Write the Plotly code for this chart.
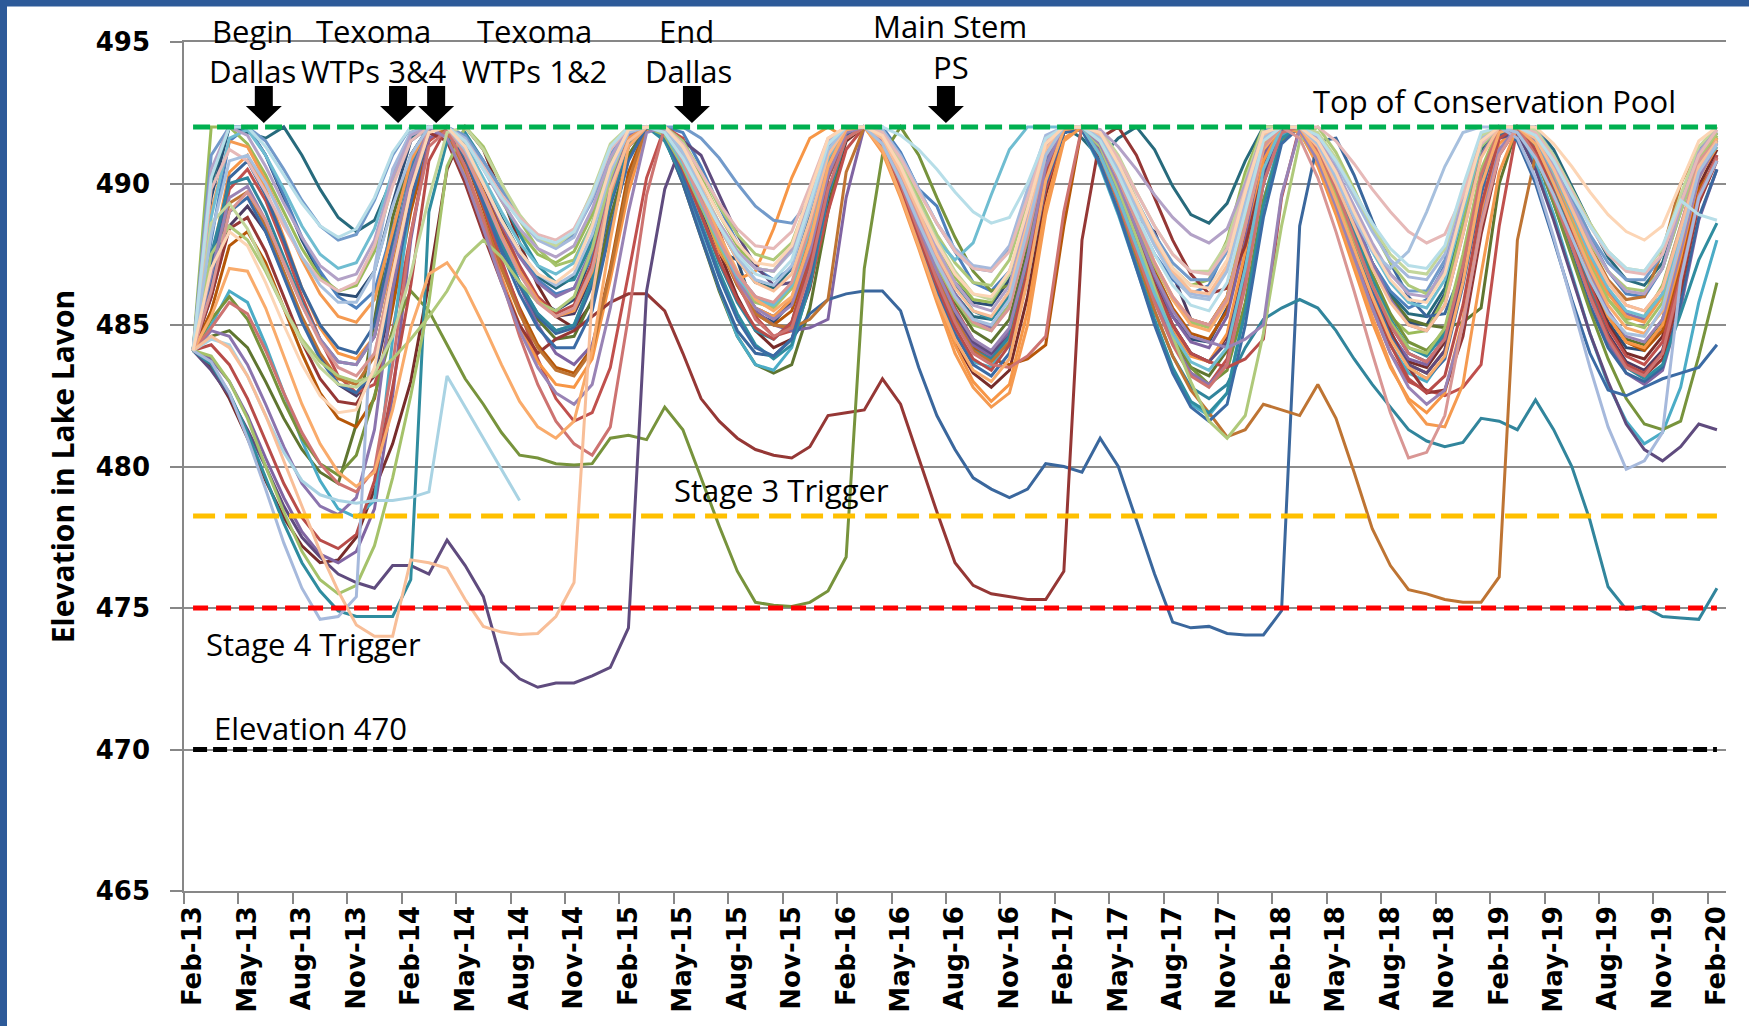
import plotly.graph_objects as go

# ---------------- data ----------------
tick_labels = ["Feb-13", "May-13", "Aug-13", "Nov-13", "Feb-14", "May-14", "Aug-14", "Nov-14",
               "Feb-15", "May-15", "Aug-15", "Nov-15", "Feb-16", "May-16", "Aug-16", "Nov-16",
               "Feb-17", "May-17", "Aug-17", "Nov-17", "Feb-18", "May-18", "Aug-18", "Nov-18",
               "Feb-19", "May-19", "Aug-19", "Nov-19", "Feb-20"]
tick_months = list(range(0, 85, 3))

top_pool = 492.0
stage3 = 478.25
stage4 = 475.0
elev470 = 470.0

arrow_months = [3.9, 11.3, 13.4, 27.5, 41.5]

s01 = [484.1, 488.0, 491.5, 492.0, 491.0, 489.6, 488.1, 486.9, 486.0, 485.6, 486.2, 488.4,
       490.6, 492.0, 492.0, 491.3, 490.0, 488.7, 487.5, 486.6, 486.1, 486.3, 487.4, 489.6,
       491.4, 492.0, 492.0, 491.8, 490.6, 489.2, 487.9, 487.0, 486.6, 487.0, 488.3, 490.2,
       491.8, 492.0, 492.0, 491.1, 489.8, 489.2, 487.6, 486.5, 486.2, 486.9, 488.6, 490.8,
       492.0, 492.0, 491.5, 490.2, 488.8, 487.5, 486.6, 486.1, 486.4, 487.8, 490.1, 491.9,
       492.0, 492.0, 491.2, 490.6, 488.9, 487.2, 486.2, 485.6, 485.9, 487.1, 489.4, 491.6,
       492.0, 492.0, 492.0, 491.0, 489.5, 488.1, 486.9, 486.1, 486.0, 487.0, 489.0, 490.9,
       491.8]
s02 = [484.1, 486.5, 489.8, 490.5, 489.4, 487.8, 486.0, 484.5, 483.2, 482.6, 482.9, 484.8,
       488.2, 491.5, 492.0, 491.0, 489.2, 487.3, 485.5, 483.8, 482.4, 481.6, 481.9, 483.5,
       486.8, 490.2, 492.0, 491.6, 490.0, 488.3, 486.6, 485.3, 484.6, 484.8, 486.4, 489.0,
       491.2, 492.0, 491.9, 490.5, 488.8, 487.1, 485.6, 484.5, 484.0, 484.7, 486.9, 489.8,
       491.8, 492.0, 491.0, 489.4, 487.6, 485.9, 484.4, 483.3, 482.9, 483.8, 486.8, 490.0,
       491.9, 492.0, 490.8, 489.2, 487.4, 485.6, 484.0, 483.0, 482.7, 482.5, 482.8, 483.6,
       488.5, 492.0, 491.5, 490.0, 488.2, 486.4, 484.9, 483.9, 483.6, 484.4, 486.8, 489.5,
       491.0]
s03 = [484.1, 492.0, 492.0, 491.4, 490.3, 489.0, 487.7, 486.7, 486.2, 486.4, 487.6, 490.0,
       491.8, 492.0, 492.0, 491.6, 490.6, 489.4, 488.3, 487.5, 487.2, 487.6, 488.9, 490.8,
       492.0, 492.0, 492.0, 491.4, 490.2, 488.9, 487.8, 487.0, 486.9, 487.7, 489.5, 491.5,
       492.0, 492.0, 491.8, 490.7, 489.3, 487.9, 486.7, 485.9, 485.8, 486.8, 489.0, 491.4,
       492.0, 492.0, 491.9, 490.8, 489.4, 488.1, 487.0, 486.4, 486.6, 488.0, 490.4, 492.0,
       492.0, 491.8, 490.7, 489.3, 487.8, 486.4, 485.3, 484.7, 484.8, 486.0, 488.6, 491.0,
       492.0, 492.0, 491.3, 490.0, 488.5, 487.1, 485.9, 485.2, 485.3, 486.4, 488.5, 490.6,
       491.7]
s04 = [484.1, 483.8, 483.0, 481.8, 480.3, 478.9, 477.7, 476.9, 476.6, 477.0, 478.5, 482.5,
       488.0, 491.6, 492.0, 491.2, 489.7, 488.0, 486.4, 485.0, 484.0, 483.6, 484.3, 486.8,
       489.9, 492.0, 492.0, 491.2, 489.7, 488.1, 486.6, 485.5, 485.0, 484.8, 484.9, 485.2,
       489.5, 492.0, 491.6, 490.2, 488.6, 486.9, 485.4, 484.3, 483.9, 484.8, 487.3, 490.4,
       492.0, 492.0, 491.4, 490.0, 488.3, 486.7, 485.3, 484.4, 484.2, 485.3, 488.0, 491.0,
       492.0, 492.0, 491.0, 489.5, 487.8, 486.1, 484.7, 483.8, 483.6, 484.6, 487.2, 490.3,
       491.9, 492.0, 491.2, 489.6, 487.8, 486.0, 484.4, 483.3, 482.9, 483.4, 485.6, 488.7,
       490.5]
s05 = [484.1, 485.0, 486.2, 485.8, 484.3, 482.6, 480.9, 479.5, 478.5, 478.2, 478.8, 484.5,
       489.5, 492.0, 492.0, 491.1, 489.6, 488.0, 486.5, 485.4, 484.8, 485.0, 486.6, 489.5,
       491.6, 492.0, 491.7, 490.1, 488.2, 486.3, 484.6, 483.6, 483.4, 484.2, 486.5, 489.6,
       491.7, 492.0, 491.3, 489.8, 488.0, 486.2, 484.7, 483.7, 483.5, 484.6, 487.4, 490.6,
       492.0, 491.9, 490.6, 488.9, 487.0, 485.1, 483.4, 482.2, 481.8, 482.6, 485.6, 489.4,
       491.7, 492.0, 491.0, 489.4, 487.6, 485.8, 484.3, 483.3, 483.0, 483.9, 486.6, 489.9,
       491.8, 491.9, 490.7, 488.9, 486.8, 484.7, 482.9, 481.6, 480.8, 481.2, 482.8, 485.8,
       488.0]
s06 = [484.1, 487.2, 490.4, 491.0, 489.8, 488.1, 486.3, 484.9, 484.0, 483.8, 484.6, 487.3,
       490.0, 492.0, 491.8, 490.4, 488.6, 486.7, 485.0, 483.7, 482.9, 482.8, 483.8, 486.6,
       489.7, 491.9, 492.0, 491.0, 489.3, 487.6, 486.6, 486.9, 488.4, 490.2, 491.6, 492.0,
       491.6, 492.0, 491.5, 489.9, 488.0, 486.0, 484.3, 483.0, 482.3, 482.9, 485.5, 489.2,
       491.6, 492.0, 491.1, 489.6, 487.9, 486.2, 484.8, 483.9, 483.7, 484.7, 487.6, 490.8,
       492.0, 491.9, 490.6, 488.9, 487.0, 485.1, 483.5, 482.4, 481.9, 482.6, 485.2, 488.9,
       491.4, 492.0, 491.6, 490.2, 488.5, 486.8, 485.3, 484.4, 484.2, 485.0, 487.4, 490.2,
       491.3]
s07 = [484.1, 489.5, 492.0, 492.0, 491.0, 489.5, 488.0, 486.8, 486.1, 486.0, 486.9, 489.3,
       491.5, 492.0, 491.9, 490.8, 489.4, 488.0, 486.8, 485.9, 485.5, 485.9, 487.5, 490.1,
       491.8, 492.0, 491.8, 490.6, 489.1, 487.6, 487.3, 485.4, 485.1, 485.8, 487.9, 490.6,
       492.0, 492.0, 491.6, 490.4, 489.0, 487.6, 486.5, 485.8, 485.7, 486.6, 488.8, 491.2,
       492.0, 492.0, 491.2, 489.8, 488.2, 486.6, 485.3, 484.5, 484.4, 485.6, 488.5, 491.3,
       492.0, 492.0, 491.4, 490.1, 488.6, 487.1, 485.9, 485.1, 485.0, 486.1, 488.7, 491.1,
       492.0, 492.0, 491.4, 490.0, 488.3, 486.6, 485.1, 484.2, 484.1, 485.0, 487.5, 490.2,
       491.5]
s08 = [484.1, 483.5, 482.4, 481.0, 479.5, 478.2, 477.2, 476.6, 476.7, 477.5, 479.2, 480.8,
       483.0, 486.5, 490.5, 492.0, 491.2, 489.6, 487.9, 486.4, 485.3, 484.9, 485.8, 488.3,
       490.9, 492.0, 492.0, 491.0, 489.3, 487.6, 486.0, 484.8, 484.2, 484.5, 486.3, 489.3,
       491.5, 492.0, 491.3, 489.7, 487.9, 486.0, 484.4, 483.3, 482.8, 483.4, 486.0, 489.6,
       491.8, 492.0, 491.3, 489.9, 488.2, 486.5, 485.0, 484.0, 483.7, 484.6, 487.4, 490.6,
       492.0, 492.0, 491.1, 489.6, 487.9, 486.2, 484.7, 483.7, 483.5, 484.4, 487.0, 490.2,
       491.9, 492.0, 491.3, 489.9, 488.2, 486.5, 485.0, 484.0, 483.8, 484.6, 487.0, 489.9,
       491.2]
s09 = [484.1, 484.6, 484.8, 484.2, 483.0, 481.7, 480.6, 479.8, 479.4, 481.5, 485.2, 488.8,
       491.0, 492.0, 492.0, 491.0, 489.5, 487.9, 486.4, 485.2, 484.5, 484.6, 485.9, 488.8,
       491.0, 492.0, 491.6, 490.0, 488.1, 486.2, 484.6, 483.6, 483.3, 483.6, 485.6, 489.0,
       491.9, 492.0, 491.7, 490.4, 488.8, 487.2, 485.8, 484.8, 484.4, 485.2, 487.7, 490.8,
       492.0, 492.0, 491.2, 489.6, 487.8, 486.0, 484.5, 483.5, 483.2, 484.1, 487.0, 490.4,
       492.0, 492.0, 491.5, 490.2, 488.7, 487.2, 486.0, 485.2, 485.0, 484.9, 485.1, 485.6,
       490.0, 492.0, 491.5, 490.1, 488.4, 486.8, 485.4, 484.5, 484.3, 485.2, 487.6, 490.2,
       491.6]
s10 = [484.1, 486.0, 488.5, 489.2, 488.3, 486.8, 485.2, 483.9, 482.9, 482.5, 483.2, 486.0,
       489.4, 492.0, 492.0, 491.2, 489.8, 488.3, 486.9, 485.9, 485.3, 485.4, 486.7, 489.4,
       491.3, 492.0, 491.9, 490.8, 489.3, 487.8, 486.5, 485.6, 485.3, 485.9, 488.0, 490.7,
       492.0, 492.0, 491.4, 490.0, 488.4, 486.8, 485.4, 484.4, 484.0, 484.8, 487.4, 490.5,
       492.0, 492.0, 491.6, 490.3, 488.8, 488.3, 486.8, 485.2, 485.0, 486.0, 488.7, 491.4,
       492.0, 492.0, 491.2, 489.7, 488.0, 486.4, 485.0, 484.0, 483.7, 484.5, 487.0, 490.0,
       491.9, 492.0, 491.1, 489.6, 487.9, 486.2, 484.7, 483.7, 483.4, 484.1, 486.5, 489.5,
       491.0]
s11 = [484.1, 490.0, 492.0, 491.8, 491.6, 492.0, 491.0, 489.8, 488.8, 488.3, 488.7, 490.2,
       491.6, 492.0, 492.0, 491.4, 490.1, 488.8, 487.6, 486.7, 486.3, 486.7, 488.0, 490.3,
       491.7, 492.0, 492.0, 491.2, 489.9, 488.5, 487.3, 486.5, 486.3, 487.0, 489.0, 491.2,
       492.0, 492.0, 491.5, 490.2, 488.8, 487.3, 486.1, 485.3, 485.2, 486.2, 488.7, 491.2,
       492.0, 491.6, 490.9, 491.6, 492.0, 491.2, 489.9, 488.9, 488.6, 489.3, 490.8, 492.0,
       492.0, 492.0, 491.3, 490.0, 488.6, 487.2, 486.1, 485.4, 485.3, 486.3, 488.7, 491.2,
       492.0, 491.6, 492.0, 491.2, 489.9, 488.6, 487.4, 486.6, 486.4, 487.2, 489.2, 491.0,
       491.8]
s12 = [484.1, 485.5, 487.8, 488.3, 487.2, 485.6, 484.0, 482.6, 481.7, 481.4, 482.4, 485.6,
       489.0, 491.5, 492.0, 490.9, 489.1, 487.2, 485.6, 484.3, 483.5, 483.3, 484.2, 487.0,
       490.4, 492.0, 492.0, 491.0, 489.4, 487.8, 486.4, 485.4, 485.0, 485.5, 487.4, 490.2,
       491.7, 492.0, 491.6, 490.2, 488.5, 486.8, 485.3, 484.2, 483.8, 483.6, 483.8, 484.3,
       488.5, 492.0, 491.5, 490.1, 488.5, 486.9, 485.6, 484.7, 484.5, 485.5, 488.2, 491.1,
       492.0, 491.8, 490.9, 489.4, 487.7, 486.0, 484.6, 483.6, 483.3, 484.1, 486.8, 490.0,
       491.7, 492.0, 491.4, 490.0, 488.3, 486.7, 485.3, 484.4, 484.1, 484.8, 487.1, 489.8,
       490.8]
s13 = [484.1, 491.0, 492.0, 492.0, 491.5, 490.5, 489.4, 488.5, 488.0, 488.2, 489.4, 491.0,
       492.0, 492.0, 492.0, 491.7, 490.8, 489.8, 488.8, 488.1, 487.8, 488.2, 489.4, 491.0,
       492.0, 492.0, 492.0, 492.0, 491.6, 490.9, 490.0, 489.2, 488.7, 488.6, 489.4, 491.0,
       492.0, 492.0, 491.9, 491.0, 489.8, 488.6, 487.6, 487.0, 486.9, 487.7, 489.6, 491.6,
       492.0, 492.0, 491.7, 490.7, 489.4, 488.2, 487.2, 486.6, 486.6, 487.6, 489.9, 491.9,
       492.0, 492.0, 491.5, 490.4, 489.1, 487.8, 486.8, 486.2, 486.2, 487.3, 489.6, 491.7,
       492.0, 492.0, 491.8, 490.8, 489.5, 488.2, 487.2, 486.6, 486.6, 487.5, 489.4, 491.2,
       492.0]
s14 = [484.1, 484.9, 485.8, 485.4, 484.1, 482.6, 481.2, 480.1, 479.4, 479.1, 479.9, 483.6,
       488.2, 491.3, 491.9, 490.6, 488.7, 486.6, 484.6, 482.9, 481.6, 480.8, 480.4, 481.4,
       485.3, 489.6, 492.0, 491.4, 489.8, 488.1, 486.5, 485.2, 484.6, 484.9, 486.9, 489.8,
       491.6, 492.0, 491.4, 490.0, 488.3, 486.6, 485.1, 484.0, 483.6, 483.5, 483.9, 484.6,
       489.0, 492.0, 491.0, 489.4, 487.6, 485.8, 484.3, 483.2, 482.8, 483.6, 486.4, 490.0,
       491.8, 492.0, 491.2, 489.8, 488.1, 486.4, 485.0, 484.0, 483.7, 484.5, 487.1, 490.3,
       491.9, 492.0, 491.0, 489.5, 487.8, 486.0, 484.5, 483.5, 483.2, 484.0, 486.6, 489.6,
       490.9]
s15 = [484.1, 487.5, 488.5, 488.0, 486.9, 485.6, 484.5, 483.7, 483.2, 483.0, 483.2, 483.8,
       484.5, 485.3, 486.2, 487.4, 488.0, 487.4, 486.5, 485.8, 485.5, 486.0, 487.7, 490.2,
       491.9, 492.0, 492.0, 491.5, 490.4, 489.2, 488.2, 487.5, 487.3, 487.9, 489.6, 491.5,
       492.0, 492.0, 491.8, 490.8, 489.5, 488.2, 487.2, 486.5, 486.4, 487.3, 489.4, 491.5,
       492.0, 492.0, 491.3, 489.8, 488.1, 486.3, 484.6, 483.0, 481.6, 481.0, 481.8, 484.7,
       488.5, 491.5, 492.0, 491.1, 489.8, 488.4, 487.2, 486.4, 486.1, 486.8, 489.0, 491.3,
       492.0, 492.0, 491.6, 490.5, 489.2, 487.9, 486.9, 486.3, 486.2, 487.0, 489.0, 490.9,
       491.8]
s16 = [484.1, 486.8, 489.5, 489.9, 488.7, 487.2, 485.7, 484.5, 483.7, 483.6, 484.6, 487.5,
       490.3, 492.0, 491.6, 490.2, 488.4, 486.5, 484.8, 483.5, 482.6, 482.2, 482.9, 485.6,
       489.0, 491.8, 492.0, 491.1, 489.6, 488.0, 486.6, 485.6, 485.2, 485.7, 487.6, 490.3,
       491.8, 492.0, 491.5, 490.1, 488.5, 486.9, 485.5, 484.5, 484.1, 484.9, 487.4, 490.6,
       492.0, 492.0, 491.4, 490.0, 488.4, 486.8, 485.5, 484.6, 484.4, 484.2, 484.5, 485.0,
       489.6, 491.9, 490.8, 489.2, 487.4, 485.6, 484.0, 482.8, 482.2, 482.7, 485.0, 488.6,
       491.2, 492.0, 491.5, 490.1, 488.5, 486.9, 485.5, 484.6, 484.4, 485.2, 487.6, 490.2,
       491.4]
s17 = [484.1, 488.8, 491.6, 491.9, 491.0, 489.8, 488.5, 487.5, 487.0, 487.2, 488.4, 490.4,
       491.8, 492.0, 492.0, 491.4, 490.2, 489.0, 487.9, 487.1, 486.8, 487.2, 488.5, 490.6,
       491.9, 492.0, 491.8, 490.7, 489.3, 487.9, 486.7, 485.9, 485.7, 486.4, 488.4, 490.9,
       492.0, 492.0, 491.7, 490.6, 489.3, 488.0, 487.3, 487.9, 489.6, 491.2, 492.0, 492.0,
       492.0, 492.0, 491.0, 489.5, 487.8, 486.1, 484.7, 483.7, 483.4, 484.2, 487.0, 490.5,
       492.0, 492.0, 491.5, 490.3, 489.0, 487.6, 486.5, 485.8, 485.6, 486.6, 489.0, 491.4,
       492.0, 492.0, 491.6, 490.4, 489.0, 487.5, 486.3, 485.5, 485.3, 486.1, 488.3, 490.5,
       491.3]
s18 = [484.1, 485.3, 487.0, 486.9, 485.6, 483.9, 482.2, 480.8, 479.8, 479.3, 479.8, 482.0,
       484.9, 486.8, 487.2, 486.3, 485.0, 483.6, 482.3, 481.4, 481.0, 481.6, 484.1, 488.0,
       491.3, 492.0, 492.0, 491.2, 489.7, 488.2, 486.9, 485.9, 485.5, 486.0, 487.9, 490.6,
       491.9, 492.0, 491.2, 489.6, 487.8, 486.0, 484.5, 483.4, 483.0, 483.8, 486.6, 490.1,
       491.9, 492.0, 491.5, 490.2, 488.7, 487.2, 485.9, 485.0, 484.8, 485.8, 488.5, 491.2,
       492.0, 492.0, 491.0, 489.4, 487.7, 486.0, 484.5, 483.5, 483.1, 483.9, 486.5, 489.9,
       491.8, 492.0, 491.4, 490.0, 488.5, 487.0, 485.7, 484.9, 484.7, 485.5, 487.9, 490.5,
       491.6]
s19 = [484.1, 487.0, 490.2, 490.8, 489.6, 488.0, 486.3, 485.0, 484.2, 484.0, 485.0, 488.0,
       491.0, 492.0, 492.0, 491.0, 489.4, 487.8, 486.4, 485.3, 484.7, 484.9, 486.4, 489.2,
       491.3, 492.0, 491.6, 490.0, 488.1, 486.3, 484.8, 484.0, 483.9, 484.5, 485.4, 485.9,
       486.1, 486.2, 486.2, 485.5, 483.5, 481.8, 480.6, 479.6, 479.2, 478.9, 479.2, 480.1,
       480.0, 479.8, 481.0, 480.0, 478.1, 476.2, 474.5, 474.3, 474.35, 474.1, 474.05, 474.05,
       474.9, 488.5, 491.5, 491.6, 490.3, 488.7, 487.2, 486.0, 485.3, 485.4, 487.0, 489.8,
       491.7, 492.0, 491.0, 489.3, 487.5, 485.7, 484.2, 483.3, 483.0, 483.5, 485.8, 488.8,
       490.5]
s20 = [484.1, 486.0, 488.4, 488.8, 487.6, 486.0, 484.4, 483.1, 482.3, 482.2, 483.3, 486.5,
       489.6, 491.8, 491.5, 490.0, 488.2, 486.5, 485.0, 484.0, 484.5, 484.8, 485.3, 485.8,
       486.1, 486.1, 485.5, 484.0, 482.4, 481.6, 481.0, 480.6, 480.4, 480.3, 480.7, 481.8,
       481.9, 482.0, 483.1, 482.2, 480.3, 478.4, 476.6, 475.8, 475.5, 475.4, 475.3, 475.3,
       476.3, 488.0, 491.6, 492.0, 491.0, 489.5, 488.0, 486.8, 486.1, 486.3, 487.8, 490.4,
       491.9, 492.0, 491.3, 489.9, 488.2, 486.4, 484.8, 483.5, 482.6, 482.7, 484.6, 488.2,
       491.0, 492.0, 491.2, 489.7, 487.9, 486.1, 484.6, 483.6, 483.2, 483.8, 486.2, 489.3,
       490.8]
s21 = [484.1, 485.2, 486.0, 485.2, 483.8, 482.3, 481.0, 480.1, 479.7, 480.4, 482.5, 484.8,
       486.2, 485.5, 484.3, 483.1, 482.2, 481.2, 480.4, 480.3, 480.1, 480.05, 480.1, 481.0,
       481.1, 480.95, 482.1, 481.3, 479.6, 477.9, 476.3, 475.2, 475.1, 475.05, 475.2, 475.6,
       476.8, 487.0, 491.0, 492.0, 491.0, 489.5, 488.1, 486.9, 486.2, 486.4, 487.9, 490.3,
       491.9, 492.0, 491.2, 489.7, 488.0, 486.3, 484.7, 483.5, 482.9, 483.4, 485.8, 489.4,
       491.5, 492.0, 491.4, 490.0, 488.4, 486.8, 485.4, 484.4, 484.1, 484.8, 487.3, 490.2,
       491.8, 492.0, 491.0, 489.3, 487.4, 485.5, 483.8, 482.4, 481.5, 481.3, 481.6, 483.9,
       486.5]
s22 = [484.1, 483.4, 482.5, 481.3, 480.0, 478.6, 477.5, 476.8, 476.2, 475.9, 475.7, 476.5,
       476.5, 476.2, 477.4, 476.5, 475.4, 473.1, 472.5, 472.2, 472.35, 472.35, 472.6, 472.9,
       474.3, 486.2, 489.8, 491.5, 491.0, 489.6, 488.2, 487.1, 486.4, 486.5, 487.9, 490.3,
       491.8, 492.0, 491.5, 490.1, 488.5, 486.8, 485.4, 484.4, 484.0, 484.6, 486.9, 490.0,
       491.8, 492.0, 491.2, 489.7, 488.1, 486.4, 485.0, 484.0, 483.7, 484.4, 487.0, 490.2,
       491.9, 492.0, 491.0, 489.5, 487.8, 486.1, 484.6, 483.6, 483.3, 484.1, 486.8, 490.0,
       491.6, 491.8, 490.5, 488.7, 486.7, 484.7, 483.0, 481.5, 480.6, 480.2, 480.7, 481.5,
       481.3]
s23 = [484.1, 487.5, 490.0, 490.2, 489.0, 487.4, 485.8, 484.5, 483.7, 483.6, 484.6, 487.6,
       490.4, 492.0, 492.0, 491.0, 489.5, 487.9, 486.5, 485.4, 484.8, 485.0, 486.6, 489.4,
       491.4, 492.0, 491.8, 490.5, 488.9, 487.2, 485.8, 484.8, 484.5, 485.1, 487.2, 490.2,
       491.8, 492.0, 491.4, 489.9, 488.2, 486.5, 485.1, 484.1, 483.8, 484.6, 487.0, 490.2,
       491.8, 492.0, 491.0, 489.3, 487.4, 485.5, 483.9, 482.8, 482.4, 482.9, 484.2, 485.2,
       485.6, 485.9, 485.6, 484.8, 483.8, 482.9, 482.1, 481.3, 480.9, 480.7, 480.85, 481.7,
       481.6, 481.3, 482.35, 481.3, 480.0, 478.1, 475.75, 474.95, 475.05, 474.7, 474.65, 474.6,
       475.7]
s24 = [484.1, 486.8, 489.3, 489.7, 488.5, 486.9, 485.3, 484.0, 483.1, 482.9, 483.9, 486.9,
       489.9, 492.0, 491.8, 490.5, 488.8, 487.0, 485.4, 484.2, 483.4, 483.2, 484.1, 486.9,
       490.1, 492.0, 492.0, 491.0, 489.4, 487.8, 486.4, 485.4, 485.0, 484.9, 485.2, 485.9,
       490.4, 492.0, 491.5, 490.1, 488.4, 486.7, 485.2, 484.1, 483.7, 484.4, 486.9, 490.1,
       491.9, 492.0, 491.0, 489.3, 487.4, 485.5, 483.9, 482.7, 481.9, 481.05, 481.3, 482.2,
       482.0, 481.8, 482.9, 481.7, 479.8, 477.8, 476.5, 475.65, 475.5, 475.3, 475.2, 475.2,
       476.1, 488.0, 491.0, 490.6, 489.2, 487.8, 486.6, 485.9, 486.0, 487.6, 490.0, 491.3,
       491.6]
s25 = [484.1, 483.7, 482.6, 481.0, 479.2, 477.3, 475.7, 474.6, 474.7, 475.4, 487.0, 490.5,
       491.8, 492.0, 492.0, 491.6, 490.6, 489.6, 488.7, 488.0, 487.7, 488.1, 489.5, 491.2,
       492.0, 492.0, 491.9, 491.0, 489.8, 488.6, 487.6, 487.0, 486.9, 487.6, 489.4, 491.4,
       492.0, 492.0, 491.9, 491.0, 489.8, 488.6, 487.7, 487.1, 487.0, 487.8, 489.8, 491.7,
       492.0, 492.0, 491.6, 490.5, 489.2, 487.9, 486.8, 486.1, 486.0, 487.0, 489.4, 491.6,
       492.0, 492.0, 491.7, 490.7, 489.5, 488.3, 487.3, 486.7, 486.6, 487.5, 489.7, 491.6,
       492.0, 491.6, 490.2, 488.1, 485.8, 483.5, 481.4, 479.9, 480.2, 481.2, 486.6, 489.5,
       490.8]
s26 = [484.1, 486.2, 489.0, 489.7, 488.7, 487.2, 485.7, 484.4, 483.5, 483.2, 484.0, 486.8,
       489.8, 492.0, 492.0, 491.0, 489.6, 488.1, 486.8, 485.8, 485.3, 485.6, 487.0, 489.7,
       491.5, 492.0, 491.9, 490.8, 489.4, 488.0, 486.8, 486.0, 485.8, 486.5, 488.5, 491.0,
       492.0, 492.0, 491.6, 490.3, 488.8, 487.3, 486.0, 485.1, 484.8, 485.6, 488.1, 491.0,
       492.0, 492.0, 491.5, 490.2, 488.7, 487.2, 486.0, 485.2, 485.0, 485.9, 488.5, 491.3,
       492.0, 491.6, 490.2, 488.3, 486.2, 484.0, 481.9, 480.3, 480.5, 481.8, 485.1, 488.5,
       491.0, 492.0, 491.7, 490.5, 489.1, 487.7, 486.5, 485.7, 485.5, 486.3, 488.5, 490.8,
       491.5]
s27 = [484.1, 488.6, 489.3, 488.4, 487.0, 485.6, 484.4, 483.5, 482.9, 482.8, 483.3, 484.6,
       486.8, 489.5, 491.8, 492.0, 491.2, 490.0, 488.9, 488.1, 487.8, 488.3, 489.7, 491.4,
       492.0, 492.0, 492.0, 491.2, 489.9, 488.6, 487.6, 487.0, 486.9, 487.7, 489.6, 491.5,
       492.0, 492.0, 491.8, 490.7, 489.3, 488.0, 486.9, 486.1, 485.9, 486.8, 489.0, 491.3,
       492.0, 492.0, 491.9, 491.0, 489.7, 488.5, 487.5, 486.9, 486.9, 487.9, 490.1, 492.0,
       492.0, 492.0, 491.8, 490.9, 489.7, 488.5, 487.5, 486.9, 486.8, 487.7, 489.8, 491.7,
       492.0, 492.0, 491.9, 491.0, 489.8, 488.6, 487.6, 487.0, 486.9, 487.7, 489.6, 491.3,
       492.0]
s28 = [484.1, 490.5, 492.0, 491.7, 490.6, 489.3, 488.1, 487.1, 486.6, 486.8, 488.0, 490.2,
       491.7, 492.0, 492.0, 491.5, 490.5, 489.4, 488.4, 487.7, 487.4, 487.8, 489.1, 490.9,
       492.0, 492.0, 491.9, 491.0, 489.8, 488.6, 487.6, 487.0, 486.9, 487.7, 489.6, 491.5,
       492.0, 492.0, 491.7, 490.5, 489.1, 487.7, 486.5, 485.7, 485.5, 486.4, 488.8, 491.3,
       492.0, 492.0, 491.9, 491.3, 490.5, 489.6, 488.8, 488.2, 487.9, 488.4, 490.0, 491.8,
       492.0, 492.0, 491.6, 490.5, 489.2, 487.9, 486.8, 486.1, 486.0, 487.0, 489.4, 491.5,
       492.0, 492.0, 491.7, 490.6, 489.3, 488.0, 486.9, 486.2, 486.1, 487.0, 489.2, 491.1,
       491.9]
s29 = [484.1, 484.5, 484.3, 483.2, 481.8, 480.5, 479.5, 479.0, 478.8, 478.7, 478.8, 478.8,
       478.9, 479.1, 483.2, 482.1, 481.0, 479.9, 478.8]
s30 = [484.1, 484.6, 484.2, 483.2, 481.8, 480.2, 478.6, 477.0, 475.6, 474.4, 474.0, 474.0,
       476.7, 476.6, 476.4, 475.3, 474.35, 474.15, 474.06, 474.1, 474.7, 475.9, 486.0, 489.8,
       491.5, 492.0, 492.0, 491.2, 489.9, 488.5, 487.3, 486.5, 486.2, 486.8, 488.7, 491.0,
       492.0, 492.0, 491.6, 490.4, 489.0, 487.5, 486.3, 485.5, 485.3, 486.2, 488.6, 491.2,
       492.0, 492.0, 491.7, 490.6, 489.3, 488.0, 486.9, 486.2, 486.1, 487.1, 489.5, 491.7,
       492.0, 492.0, 491.3, 490.0, 488.5, 487.0, 485.8, 485.0, 484.8, 485.7, 488.2, 490.9,
       492.0, 492.0, 491.6, 490.5, 489.1, 487.7, 486.5, 485.7, 485.5, 486.3, 488.4, 490.6,
       491.5]
s31 = [484.1, 483.6, 482.6, 481.2, 479.6, 478.0, 476.6, 475.6, 474.9, 474.7, 474.7, 474.7,
       476.0, 489.0, 491.5, 491.8, 490.8, 489.5, 488.2, 487.1, 486.5, 486.6, 487.9, 490.3,
       491.8, 492.0, 491.5, 490.2, 488.6, 486.9, 485.4, 484.3, 483.8, 484.3, 486.4, 489.6,
       491.6, 492.0, 491.7, 490.5, 489.1, 487.6, 486.4, 485.5, 485.2, 486.0, 488.4, 491.0,
       492.0, 491.9, 490.7, 489.0, 487.1, 485.2, 483.5, 482.3, 481.9, 482.6, 485.5, 489.2,
       491.6, 492.0, 491.3, 489.9, 488.3, 486.6, 485.2, 484.2, 483.9, 484.7, 487.2, 490.2,
       491.8, 492.0, 491.3, 489.8, 488.0, 486.2, 484.6, 483.5, 483.1, 483.6, 485.4, 487.3,
       488.6]
s32 = [484.1, 489.8, 491.2, 490.8, 489.7, 488.5, 487.4, 486.6, 486.2, 486.5, 487.8, 489.9,
       491.5, 492.0, 492.0, 491.5, 490.6, 489.6, 488.8, 488.2, 488.0, 488.4, 489.6, 491.2,
       492.0, 492.0, 492.0, 491.4, 490.4, 489.3, 488.4, 487.8, 487.7, 488.3, 489.9, 491.6,
       492.0, 492.0, 491.8, 490.9, 489.7, 488.6, 487.6, 487.0, 486.9, 487.6, 489.5, 491.5,
       492.0, 492.0, 491.8, 490.9, 489.7, 488.5, 487.5, 486.9, 486.8, 487.7, 489.8, 491.8,
       492.0, 492.0, 492.0, 491.5, 490.7, 489.8, 489.0, 488.3, 487.9, 488.2, 489.6, 491.4,
       492.0, 492.0, 491.8, 490.9, 489.7, 488.5, 487.5, 486.9, 486.8, 487.5, 489.3, 491.0,
       491.9]
s33 = [484.1, 486.4, 489.0, 489.5, 488.3, 486.7, 485.1, 483.8, 482.9, 482.6, 483.4, 486.2,
       489.3, 491.9, 492.0, 490.9, 489.3, 487.6, 486.1, 484.9, 484.2, 484.2, 485.5, 488.4,
       490.8, 492.0, 491.7, 490.3, 488.5, 486.7, 485.2, 484.2, 483.9, 484.5, 486.6, 489.7,
       491.7, 492.0, 491.3, 489.8, 488.0, 486.2, 484.7, 483.6, 483.2, 484.0, 486.6, 490.0,
       491.8, 491.9, 490.7, 489.0, 487.0, 485.0, 483.3, 482.1, 481.6, 482.2, 485.0, 488.8,
       491.4, 492.0, 491.2, 489.7, 488.0, 486.2, 484.6, 483.5, 483.1, 483.8, 486.4, 489.6,
       492.0, 491.5, 490.0, 488.0, 485.9, 484.0, 482.7, 482.5, 482.8, 483.1, 483.3, 483.5,
       484.3]
s34 = [484.1, 488.2, 490.8, 491.0, 490.0, 488.7, 487.4, 486.4, 485.8, 485.8, 486.9, 489.2,
       491.0, 492.0, 492.0, 491.2, 490.0, 488.7, 487.6, 486.8, 486.4, 486.8, 488.2, 490.4,
       491.8, 492.0, 492.0, 491.1, 489.8, 488.5, 487.4, 486.6, 486.4, 487.1, 489.1, 491.2,
       492.0, 492.0, 491.4, 490.1, 488.6, 487.2, 486.0, 485.2, 485.0, 485.9, 488.4, 491.0,
       492.0, 492.0, 491.6, 490.5, 489.1, 487.8, 486.7, 486.0, 485.9, 486.9, 489.3, 491.6,
       492.0, 492.0, 491.4, 490.2, 488.8, 487.6, 487.0, 487.6, 489.0, 490.6, 491.8, 492.0,
       492.0, 491.8, 490.9, 489.6, 488.1, 486.6, 485.4, 484.7, 484.6, 485.6, 488.0, 490.4,
       491.4]
s35 = [484.1, 490.2, 492.0, 492.0, 491.3, 490.3, 489.3, 488.5, 488.1, 488.4, 489.5, 491.1,
       492.0, 492.0, 492.0, 491.5, 490.5, 489.5, 488.7, 488.1, 487.9, 488.3, 489.6, 491.3,
       492.0, 492.0, 491.8, 490.9, 489.7, 488.5, 487.5, 486.8, 486.6, 487.3, 489.3, 491.4,
       492.0, 492.0, 492.0, 491.7, 491.2, 490.5, 489.7, 489.0, 488.6, 488.8, 490.0, 491.6,
       492.0, 492.0, 491.5, 490.3, 488.9, 487.5, 486.4, 485.7, 485.5, 486.5, 489.0, 491.5,
       492.0, 492.0, 491.7, 490.8, 489.7, 488.6, 487.7, 487.1, 487.0, 487.8, 489.9, 491.8,
       492.0, 492.0, 491.7, 490.8, 489.6, 488.5, 487.6, 487.0, 486.9, 487.8, 489.4, 488.9,
       488.7]
s36 = [484.1, 487.0, 488.3, 487.8, 486.5, 485.0, 483.6, 482.5, 481.9, 482.0, 483.5, 486.8,
       489.8, 491.8, 492.0, 491.3, 490.0, 488.7, 487.6, 486.8, 486.5, 487.0, 488.5, 490.6,
       491.9, 492.0, 492.0, 491.3, 490.1, 488.9, 487.9, 487.2, 487.1, 487.8, 489.7, 491.6,
       492.0, 492.0, 491.7, 490.6, 489.2, 487.9, 486.8, 486.1, 486.0, 486.9, 489.1, 491.4,
       492.0, 492.0, 491.8, 490.7, 489.4, 488.1, 487.0, 486.4, 486.3, 487.3, 489.7, 491.8,
       492.0, 492.0, 491.5, 490.4, 489.0, 487.7, 486.6, 485.9, 485.8, 486.8, 489.2, 491.5,
       492.0, 492.0, 492.0, 491.4, 490.6, 489.7, 488.9, 488.3, 488.0, 488.5, 490.0, 491.5,
       492.0]
s37 = [484.1, 483.9, 483.0, 481.7, 480.0, 478.4, 477.0, 476.0, 475.5, 475.8, 477.2, 479.6,
       482.5, 485.8, 490.6, 492.0, 491.3, 490.0, 488.7, 487.7, 487.1, 487.3, 488.6, 490.7,
       492.0, 492.0, 491.7, 490.6, 489.2, 487.8, 486.6, 485.8, 485.6, 486.3, 488.4, 490.9,
       492.0, 492.0, 491.4, 490.1, 488.6, 487.1, 485.9, 485.0, 484.8, 485.7, 488.2, 491.0,
       492.0, 492.0, 491.4, 490.1, 488.6, 487.1, 485.9, 485.1, 484.9, 485.9, 488.6, 491.3,
       492.0, 491.9, 491.0, 489.6, 488.0, 486.4, 485.1, 484.2, 484.0, 484.9, 487.5, 490.5,
       492.0, 492.0, 491.4, 490.1, 488.6, 487.1, 485.9, 485.1, 484.9, 485.8, 488.2, 490.6,
       491.7]
s38 = [484.1, 484.3, 483.6, 482.4, 480.9, 479.4, 478.2, 477.4, 477.1, 477.6, 479.5, 482.8,
       486.4, 490.8, 492.0, 491.4, 490.0, 488.5, 487.1, 486.0, 485.4, 485.7, 487.2, 489.8,
       491.6, 492.0, 491.8, 490.5, 488.9, 487.3, 485.9, 484.9, 484.5, 485.1, 487.3, 490.2,
       491.8, 492.0, 491.3, 489.8, 488.1, 486.4, 484.9, 483.8, 483.4, 484.3, 486.9, 490.3,
       491.9, 492.0, 491.3, 489.8, 488.1, 486.4, 485.0, 484.0, 483.7, 483.5, 483.8, 484.5,
       489.5, 492.0, 491.1, 489.5, 487.7, 485.9, 484.3, 483.1, 482.6, 483.2, 485.7, 489.2,
       491.6, 492.0, 491.2, 489.7, 487.9, 486.1, 484.6, 483.6, 483.3, 484.0, 486.5, 489.4,
       490.9]
s39 = [484.1, 484.8, 484.6, 483.6, 482.2, 480.7, 479.4, 478.6, 478.3, 478.9, 481.3, 486.2,
       490.0, 492.0, 492.0, 491.3, 490.0, 488.6, 487.4, 486.5, 486.0, 486.3, 487.7, 490.0,
       491.7, 492.0, 491.9, 490.8, 489.4, 488.0, 486.8, 486.0, 485.7, 486.3, 488.3, 490.8,
       492.0, 492.0, 491.6, 490.4, 488.9, 487.4, 486.1, 485.2, 484.9, 485.7, 488.1, 490.9,
       492.0, 492.0, 491.1, 489.6, 487.8, 486.0, 484.4, 483.3, 482.9, 483.6, 486.4, 490.0,
       491.8, 492.0, 491.5, 490.2, 488.7, 487.2, 485.9, 485.0, 484.8, 485.7, 488.2, 491.0,
       492.0, 492.0, 491.5, 490.3, 488.9, 487.4, 486.2, 485.4, 485.2, 486.1, 488.4, 490.8,
       491.8]
s40 = [484.1, 489.0, 491.5, 491.3, 490.1, 488.7, 487.3, 486.1, 485.3, 485.1, 485.9, 488.3,
       490.8, 492.0, 492.0, 491.1, 489.7, 488.2, 486.9, 485.9, 485.3, 485.5, 486.9, 489.6,
       491.6, 492.0, 491.9, 490.8, 489.3, 487.8, 486.5, 485.6, 485.3, 485.9, 488.0, 490.6,
       491.6, 492.0, 491.1, 489.5, 487.7, 485.8, 484.0, 482.8, 482.1, 482.6, 485.0, 488.9,
       491.5, 492.0, 491.5, 490.2, 488.7, 487.2, 486.0, 485.2, 485.0, 486.0, 488.7, 491.4,
       492.0, 491.8, 490.8, 489.1, 487.2, 485.3, 483.6, 482.3, 481.5, 481.4, 482.9, 486.8,
       490.4, 492.0, 491.6, 490.3, 488.8, 487.3, 486.1, 485.3, 485.1, 486.0, 488.3, 490.8,
       491.6]

# (series, colour) in drawing order
series = [
    (s07, "#2C4D75"), (s08, "#772C2A"), (s09, "#5F7530"), (s10, "#4D3B62"), (s11, "#276A7C"),
    (s12, "#B65708"), (s01, "#4F81BD"), (s02, "#C0504D"), (s03, "#9BBB59"), (s04, "#8064A2"),
    (s05, "#4BACC6"), (s06, "#F79646"), (s19, "#3A679D"), (s20, "#953735"), (s21, "#77933C"),
    (s22, "#5F4B7E"), (s23, "#31859C"), (s24, "#BE7433"), (s31, "#2F8C9F"), (s33, "#3B6BA5"),
    (s38, "#B84C49"), (s39, "#8B74AE"), (s40, "#F59A50"), (s37, "#A5C26A"),
    (s13, "#729ACA"), (s14, "#CD7371"), (s15, "#AFC97A"), (s16, "#9983B5"), (s17, "#6FBDD1"),
    (s18, "#F9AB6B"), (s25, "#A6B9DC"), (s26, "#D99694"), (s27, "#C3D69B"), (s28, "#B3A2C7"),
    (s29, "#A9D3E3"), (s30, "#F8BE98"), (s32, "#E6B9B8"), (s34, "#A7C0DE"), (s35, "#B7DEE8"),
    (s36, "#FCD5B5"),
]

for vals, _c in series:
    assert len(vals) in (19, 85), len(vals)

# ---------------- figure ----------------
fig = go.Figure()

for vals, col in series:
    fig.add_trace(go.Scatter(x=list(range(len(vals))), y=vals, mode="lines",
                             line=dict(color=col, width=3), hoverinfo="skip",
                             showlegend=False))

ref_lines = [
    (elev470, "#000000", "14px,6px"),
    (stage4, "#FF0000", "15px,8px"),
    (stage3, "#FFC000", "22px,10px"),
    (top_pool, "#00B050", "17px,7px"),
]
for val, col, dash in ref_lines:
    fig.add_trace(go.Scatter(x=[0, 84], y=[val, val], mode="lines",
                             line=dict(color=col, width=5, dash=dash),
                             hoverinfo="skip", showlegend=False))

# plot-area geometry in pixels (for placing text annotations)
L, R, T, B = 184, 1726, 42.4, 891.0


def paper(px, py):
    return (px - L) / (R - L), (B - py) / (B - T)


text_font = dict(family="Open Sans", size=31, color="black")
labels = [
    ("Begin", 252, 31), ("Dallas", 252, 71),
    ("Texoma", 373, 31), ("WTPs 3&4", 373, 71),
    ("Texoma", 534, 31), ("WTPs 1&2", 534, 71),
    ("End", 686, 31), ("Dallas", 688, 71),
    ("Main Stem", 950, 26), ("PS", 951, 67),
    ("Top of Conservation Pool", 1494, 101),
    ("Stage 3 Trigger", 781, 490),
    ("Stage 4 Trigger", 313, 644),
    ("Elevation 470", 310, 728),
]
annotations = []
for txt, px, py in labels:
    xp, yp = paper(px, py)
    annotations.append(dict(text=txt, x=xp, y=yp, xref="paper", yref="paper",
                            xanchor="center", yanchor="middle", showarrow=False,
                            font=text_font))

shapes = []
arrow_path = "M 0 4 L 18 21 L 9 21 L 9 41 L -9 41 L -9 21 L -18 21 Z"
for am in arrow_months:
    shapes.append(dict(type="path", xref="x", yref="y", xsizemode="pixel", ysizemode="pixel",
                       xanchor=am, yanchor=top_pool, path=arrow_path,
                       fillcolor="black", line=dict(width=0)))

# dark-blue slide border (top and left)
border = "#2D5A99"
x_left_edge, _ = paper(7, 0)
_, y_top_edge = paper(0, 7)
shapes.append(dict(type="rect", xref="paper", yref="paper", x0=-0.3, x1=1.3,
                   y0=y_top_edge, y1=1.3, fillcolor=border, line=dict(width=0)))
shapes.append(dict(type="rect", xref="paper", yref="paper", x0=-0.3, x1=x_left_edge,
                   y0=-0.3, y1=1.3, fillcolor=border, line=dict(width=0)))

axis_grey = "#878787"
fig.update_layout(
    width=1749, height=1026,
    margin=dict(l=184, r=23, t=42, b=135, pad=0, autoexpand=False),
    paper_bgcolor="white", plot_bgcolor="white",
    showlegend=False,
    annotations=annotations,
    shapes=shapes,
    xaxis=dict(range=[-0.5, 84.5], tickmode="array", automargin=False,
               tickvals=[m - 0.5 for m in tick_months], ticktext=tick_labels,
               ticks="outside", ticklen=11, tickwidth=1.5, tickcolor=axis_grey,
               showline=True, mirror=True, linecolor=axis_grey, linewidth=1.5,
               showgrid=False, zeroline=False, tickangle=-90,
               ticklabelshift=9, ticklabelstandoff=-8,
               tickfont=dict(family="DejaVu Sans", size=26, color="black", weight="bold")),
    yaxis=dict(range=[465, 495], tickmode="array", automargin=False,
               tickvals=[465, 470, 475, 480, 485, 490, 495],
               ticks="outside", ticklen=12, tickwidth=1.5, tickcolor=axis_grey,
               showline=True, linecolor=axis_grey, linewidth=1.5,
               showgrid=True, gridcolor="#8C8C8C", gridwidth=1.5, zeroline=False,
               ticklabelstandoff=15,
               tickfont=dict(family="DejaVu Sans", size=26, color="black", weight="bold"),
               title=dict(text="Elevation in Lake Lavon", standoff=12,
                          font=dict(family="Open Sans", size=30, color="black", weight="bold"))),
)

fig.write_html("out.html", config={"displayModeBar": False},
               post_script="document.body.style.margin='0';")
